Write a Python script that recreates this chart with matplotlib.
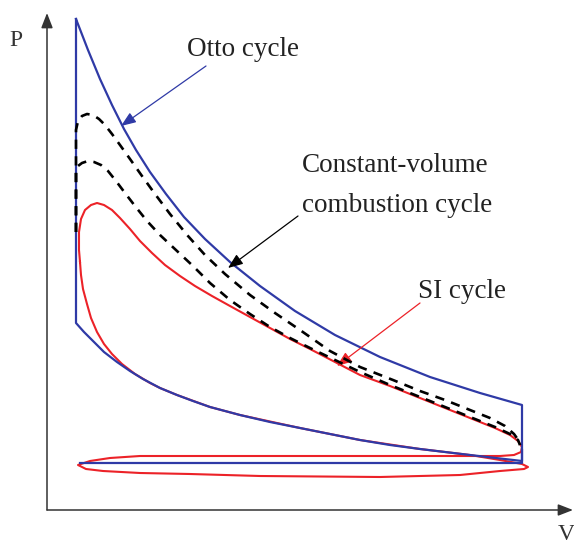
import matplotlib
matplotlib.use("Agg")
import matplotlib.pyplot as plt

plt.rcParams['font.family'] = ['Liberation Serif', 'DejaVu Serif']

# Otto cycle: expansion stroke from the pressure peak down to BDC
otto_exp_v = [29, 41, 53, 65, 77, 89, 103, 119, 137, 158, 183, 213, 248, 288, 333, 383, 433, 475]
otto_exp_p = [491, 460, 431, 405, 381, 360, 338, 316, 293, 271, 248, 224, 199, 175, 153, 133, 117, 105]
# Otto cycle: compression stroke from TDC corner out to BDC
otto_comp_v = [29, 37, 46, 57, 70, 83, 96, 113, 130, 146, 163, 193, 223, 253, 283, 313, 343, 373, 423, 475]
otto_comp_p = [187, 178, 169, 158, 148, 139, 131, 122, 115, 109, 103, 95, 88, 82, 76, 70, 65, 61, 55, 49]
# exhaust / intake line
otto_gas_v = [33, 475, 475]
otto_gas_p = [47, 47, 60]

# SI cycle (closed loop incl. pumping loop)
si_v = [33, 32, 32, 34, 38, 44, 50, 57, 65, 73, 83, 93, 105, 118, 133, 148, 165, 183, 203, 223,
        243, 263, 288, 313, 343, 373, 403, 428, 448, 463, 471, 475, 474, 467, 453, 253, 93, 63,
        43, 31, 39, 56, 93, 143, 213, 333, 413, 453, 477, 481, 475, 453, 423, 373, 313, 253,
        193, 163, 130, 113, 103, 88, 75, 65, 57, 50, 44, 40, 36, 34, 33]
si_p = [248, 260, 278, 291, 300, 305, 307, 305, 300, 292, 281, 269, 257, 245, 234, 224, 214, 204, 193, 182,
        171, 161, 148, 135, 124, 112, 100, 90, 82, 75, 69, 63, 58, 55, 54, 54, 54, 52,
        49, 45, 41, 39, 37, 36, 34, 33, 35, 39, 41, 43, 46, 50, 55, 61, 70, 82,
        95, 103, 115, 122, 127, 136, 146, 156, 166, 178, 192, 206, 221, 235, 248]

# constant-volume combustion cycles (two loads)
cv_hi_v = [29, 29, 31, 35, 40, 46, 52, 58, 65, 73, 83, 95, 108, 123, 141, 158, 178, 203, 228, 253,
           283, 313, 346, 373, 398, 423, 443, 458, 467, 472, 473]
cv_hi_p = [278, 380, 389, 394, 396, 395, 391, 385, 376, 365, 351, 334, 316, 296, 274, 255, 236, 215, 197, 180,
           159, 143, 130, 119, 110, 100, 92, 84, 76, 69, 65]
cv_lo_v = [29, 29, 31, 35, 41, 47, 54, 61, 69, 78, 88, 100, 113, 130, 146, 163, 183, 203, 223, 243,
           263, 288, 313, 343, 373, 403, 428, 448, 463, 471, 473]
cv_lo_p = [278, 338, 344, 347, 349, 348, 345, 339, 329, 317, 304, 289, 275, 259, 244, 227, 210, 196, 183, 172,
           162, 150, 138, 125, 113, 101, 91, 83, 76, 70, 65]

blue = '#2f3aa6'
red = '#ec2228'

fig = plt.figure(figsize=(5.74, 5.45), dpi=100)
ax = fig.add_axes([0, 0, 1, 1])
ax.set_xlim(-47, 527)
ax.set_ylim(-35, 510)
ax.axis('off')

# axes with arrow heads
ax.annotate('', xy=(0, 497), xytext=(0, 0),
            arrowprops=dict(arrowstyle='-|>,head_length=0.9,head_width=0.35', color='#333333',
                            lw=1.1, mutation_scale=10, shrinkA=0, shrinkB=0))
ax.annotate('', xy=(526, 0), xytext=(0, 0),
            arrowprops=dict(arrowstyle='-|>,head_length=0.9,head_width=0.35', color='#333333',
                            lw=1.1, mutation_scale=10, shrinkA=0, shrinkB=0))
ax.text(-31, 470, 'P', fontsize=17, color='#333333', ha='center', va='center')
ax.text(519, -25, 'V', fontsize=17, color='#333333', ha='center', va='center')

# SI cycle
ax.plot(si_v, si_p, color=red, lw=1.5, zorder=2)

# Otto cycle
ax.plot(otto_exp_v[:1] + otto_comp_v + otto_exp_v[::-1],
        otto_exp_p[:1] + otto_comp_p + otto_exp_p[::-1], color=blue, lw=1.6, zorder=3)
ax.plot(otto_gas_v, otto_gas_p, color=blue, lw=1.6, zorder=3)

# constant-volume combustion cycles
for v, p in [(cv_hi_v, cv_hi_p), (cv_lo_v, cv_lo_p)]:
    ax.plot(v, p, color='black', lw=1.9, ls=(0, (3.5, 2.8)), zorder=4)

# labels and pointer arrows
txt = dict(fontsize=19.5, color='#222222', va='center', ha='left')
ax.text(140, 460, 'Otto cycle', **txt)
ax.text(255, 344, 'Constant-volume', **txt)
ax.text(255, 304, 'combustion cycle', **txt)
ax.text(371, 218, 'SI cycle', **txt)

head = '-|>,head_length=0.9,head_width=0.35'
ax.annotate('', xy=(74, 384), xytext=(159, 444),
            arrowprops=dict(arrowstyle=head, color=blue, lw=0.9, mutation_scale=10,
                            shrinkA=0, shrinkB=0))
ax.annotate('', xy=(181, 242), xytext=(251, 294),
            arrowprops=dict(arrowstyle=head, color='black', lw=0.9, mutation_scale=10,
                            shrinkA=0, shrinkB=0))
ax.annotate('', xy=(290, 144), xytext=(373, 207),
            arrowprops=dict(arrowstyle=head, color=red, lw=0.9, mutation_scale=10,
                            shrinkA=0, shrinkB=0))

fig.savefig('out.png', dpi=100, facecolor='white')
